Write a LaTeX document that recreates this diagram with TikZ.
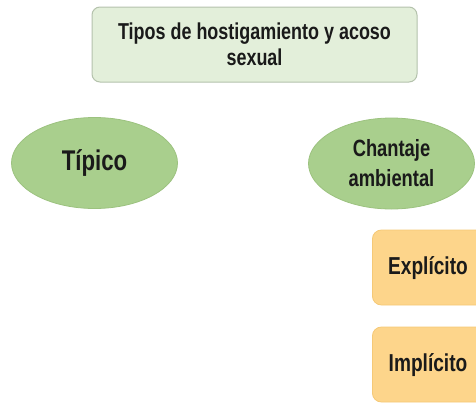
\documentclass[tikz,border=0pt]{standalone}
\usepackage{fontspec}
\setmainfont{Liberation Sans}[FakeStretch=0.78]
\usetikzlibrary{shapes.geometric}
\definecolor{titlefill}{HTML}{E3EFDA}
\definecolor{titledraw}{HTML}{B4C2AC}
\definecolor{ellfill}{HTML}{A9CF8D}
\definecolor{elldraw}{HTML}{9CC27F}
\definecolor{boxfill}{HTML}{FDD58B}
\definecolor{boxdraw}{HTML}{F5C977}
\definecolor{txt}{HTML}{1A1A1A}
\begin{document}
\begin{tikzpicture}[x=1pt,y=-1pt,
  titlebox/.style={draw=titledraw, line width=1pt, fill=titlefill, rounded corners=8pt, minimum width=325pt, minimum height=75pt, align=center, text=txt, font=\fontsize{23}{26}\selectfont\bfseries},
  ellnode/.style={ellipse, draw=elldraw, line width=0.8pt, fill=ellfill, minimum width=166pt, minimum height=91pt, align=center, text=txt, inner sep=0pt},
  orbox/.style={draw=boxdraw, line width=0.8pt, fill=boxfill, rounded corners=9pt, minimum width=120pt, minimum height=75pt, anchor=west},
  boxtext/.style={text=txt, font=\fontsize{24.5}{28}\selectfont\bfseries}]
\useasboundingbox (0,0) rectangle (476,402);
\clip (0,0) rectangle (476,402);
\node[titlebox] (title) at (254.5,44.5) {Tipos de hostigamiento y acoso\\sexual};
\node[ellnode, font=\fontsize{28.5}{32}\selectfont\bfseries] (tipico) at (94.5,163) {Típico};
\node[ellnode, font=\fontsize{23.5}{30}\selectfont\bfseries] (chantaje) at (391.5,163.5) {Chantaje\\ambiental};
\node[orbox] (explicito) at (372,267.5) {};
\node[orbox] (implicito) at (372,364.5) {};
\node[boxtext] (explt) at (428,268) {Explícito};
\node[boxtext] (implt) at (428,365) {Implícito};
\end{tikzpicture}
\end{document}
